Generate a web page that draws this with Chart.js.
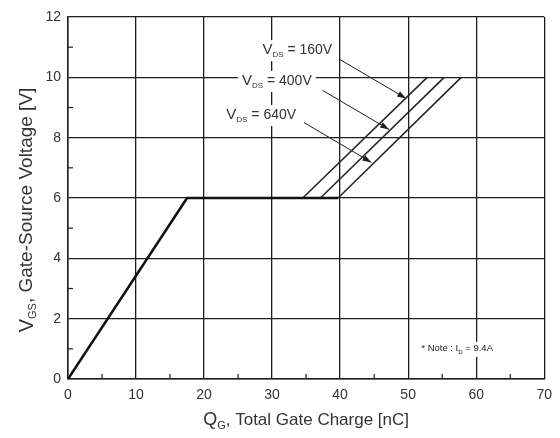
<!DOCTYPE html>
<html>
<head>
<meta charset="utf-8">
<script src="https://cdn.jsdelivr.net/npm/chart.js@4/dist/chart.umd.min.js"></script>
<style>
  html, body { margin: 0; padding: 0; background: #fff; }
  #wrap { width: 560px; height: 438px; }
</style>
</head>
<body>
<div id="wrap"><canvas id="grafico" width="560" height="438"></canvas></div>
<script>
// main curve (shared part): gate charge [nC] vs VGS [V]
const qgBase = [0, 17.5, 39.7];
const vgsBase = [0, 6, 6];

// branches per VDS, from end of plateau up to 10 V
const vdsLabels = ['160V', '400V', '640V'];
const branchStartQ = [34.5, 37.1, 39.7];
const branchEndQ = [52.8, 55.3, 57.8];
const branchV = [6, 10];

// annotation texts + positions in data units
const labelAt = [[33.7, 10.9], [30.7, 9.88], [28.4, 8.75]];
const arrowFrom = [[39.9, 10.6], [37.4, 9.57], [34.7, 8.5]];
const arrowTo = [[49.7, 9.3], [47.2, 8.27], [44.6, 7.18]];
const noteAt = [57.2, 1.0];

const xTicks = [0, 10, 20, 30, 40, 50, 60, 70];
const yTicks = [0, 2, 4, 6, 8, 10, 12];

const FONT = '"Liberation Sans", Arial, sans-serif';
const INK = '#1e1e1e';

// draws text made of parts (normal + subscript), centred on x
function textParts(ctx, parts, x, y, align) {
  let w = 0;
  parts.forEach(p => { ctx.font = p.size + 'px ' + FONT; p.w = ctx.measureText(p.t).width; w += p.w; });
  let cx = align === 'left' ? x : x - w / 2;
  ctx.textBaseline = 'middle';
  ctx.textAlign = 'left';
  parts.forEach(p => {
    ctx.font = p.size + 'px ' + FONT;
    ctx.fillText(p.t, cx, y + (p.sub ? p.size * 0.55 : 0));
    cx += p.w;
  });
  return w;
}

const extras = {
  id: 'extras',
  afterDatasetsDraw(chart) {
    const ctx = chart.ctx;
    const xs = chart.scales.x, ys = chart.scales.y;
    const a = chart.chartArea;
    ctx.save();
    ctx.strokeStyle = INK;
    ctx.fillStyle = INK;

    // minor ticks pointing inward
    ctx.lineWidth = 1.2;
    for (let v = 5; v < 70; v += 10) {
      const px = xs.getPixelForValue(v);
      ctx.beginPath(); ctx.moveTo(px, a.bottom); ctx.lineTo(px, a.bottom - 5); ctx.stroke();
    }
    for (let v = 1; v < 12; v += 2) {
      const py = ys.getPixelForValue(v);
      ctx.beginPath(); ctx.moveTo(a.left, py); ctx.lineTo(a.left + 5, py); ctx.stroke();
    }

    // arrows
    ctx.lineWidth = 1;
    arrowFrom.forEach((f, i) => {
      const x1 = xs.getPixelForValue(f[0]), y1 = ys.getPixelForValue(f[1]);
      const x2 = xs.getPixelForValue(arrowTo[i][0]), y2 = ys.getPixelForValue(arrowTo[i][1]);
      ctx.beginPath(); ctx.moveTo(x1, y1); ctx.lineTo(x2, y2); ctx.stroke();
      const ang = Math.atan2(y2 - y1, x2 - x1);
      ctx.beginPath();
      ctx.moveTo(x2, y2);
      ctx.lineTo(x2 - 9 * Math.cos(ang) + 3 * Math.sin(ang), y2 - 9 * Math.sin(ang) - 3 * Math.cos(ang));
      ctx.lineTo(x2 - 9 * Math.cos(ang) - 3 * Math.sin(ang), y2 - 9 * Math.sin(ang) + 3 * Math.cos(ang));
      ctx.closePath(); ctx.fill();
    });

    // VDS labels with white box
    vdsLabels.forEach((lab, i) => {
      const px = xs.getPixelForValue(labelAt[i][0]), py = ys.getPixelForValue(labelAt[i][1]);
      const parts = [{ t: 'V', size: 15 }, { t: 'DS', size: 8, sub: true }, { t: ' = ' + lab, size: 14 }];
      ctx.fillStyle = '#fff';
      ctx.fillRect(px - 39, py - 10, 78, 21);
      ctx.fillStyle = '#333';
      textParts(ctx, parts, px, py, 'center');
    });

    // note
    const nx = xs.getPixelForValue(noteAt[0]), ny = ys.getPixelForValue(noteAt[1]);
    ctx.fillStyle = '#fff';
    ctx.fillRect(nx - 40, ny - 7, 80, 15);
    ctx.fillStyle = INK;
    textParts(ctx, [{ t: '* Note : I', size: 9.5 }, { t: 'D', size: 6, sub: true }, { t: ' = 9.4A', size: 9.5 }], nx, ny, 'center');

    // axis titles
    ctx.fillStyle = '#333';
    textParts(ctx, [{ t: 'Q', size: 18 }, { t: 'G', size: 11, sub: true }, { t: ', Total Gate Charge [nC]', size: 17 }],
      (a.left + a.right) / 2, 420, 'center');
    ctx.translate(27, 210);
    ctx.rotate(-Math.PI / 2);
    textParts(ctx, [{ t: 'V', size: 20 }, { t: 'GS', size: 11, sub: true }, { t: ', Gate-Source Voltage [V]', size: 19 }],
      0, 0, 'center');
    ctx.restore();
  }
};

const datasets = [{
  label: 'base',
  data: qgBase.map((q, i) => ({ x: q, y: vgsBase[i] })),
  borderColor: '#111',
  borderWidth: 2.6,
  pointRadius: 0
}];
vdsLabels.forEach((lab, i) => {
  datasets.push({
    label: 'VDS = ' + lab,
    data: [{ x: branchStartQ[i], y: branchV[0] }, { x: branchEndQ[i], y: branchV[1] }],
    borderColor: '#262626',
    borderWidth: 1.6,
    pointRadius: 0
  });
});

new Chart(document.getElementById('grafico'), {
  type: 'line',
  data: { datasets },
  options: {
    responsive: false,
    animation: false,
    layout: { padding: { left: 0, right: 13, top: 17, bottom: 0 } },
    plugins: { legend: { display: false }, tooltip: { enabled: false } },
    scales: {
      x: {
        type: 'linear', min: 0, max: 70,
        afterBuildTicks: s => { s.ticks = xTicks.map(v => ({ value: v })); },
        afterFit: s => { s.height = 59; },
        ticks: { font: { family: FONT, size: 14 }, color: '#333', padding: 8 },
        grid: { color: INK, lineWidth: 1.3, drawTicks: false },
        border: { color: INK, width: 1.5 }
      },
      y: {
        min: 0, max: 12,
        afterBuildTicks: s => { s.ticks = yTicks.map(v => ({ value: v })); },
        afterFit: s => { s.width = 68; },
        ticks: { font: { family: FONT, size: 14 }, color: '#333', padding: 7 },
        grid: { color: INK, lineWidth: 1.3, drawTicks: false },
        border: { color: INK, width: 1.5 }
      }
    }
  },
  plugins: [extras]
});
</script>
</body>
</html>
